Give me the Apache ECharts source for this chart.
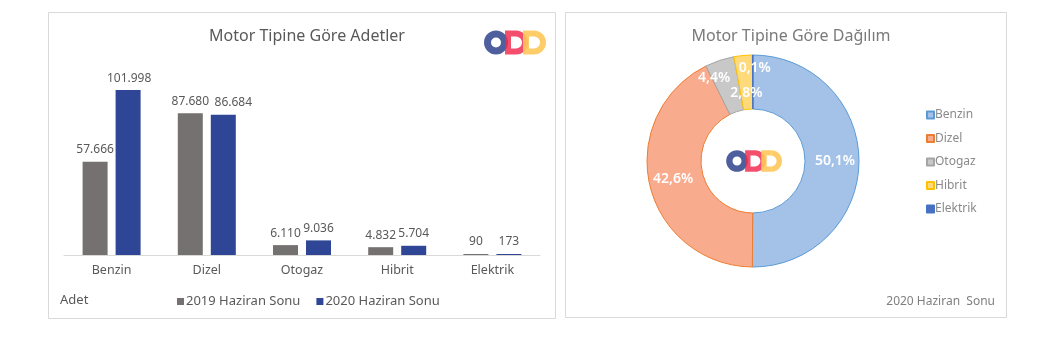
<!DOCTYPE html>
<html>
<head>
<meta charset="utf-8">
<script src="https://cdn.jsdelivr.net/npm/echarts@6/dist/echarts.min.js"></script>
<style>
  html, body { margin: 0; padding: 0; background: #fff; }
  #chart { width: 1042px; height: 349px; }
</style>
</head>
<body>
<div id="chart"></div>
<script>
// Motor types and registered vehicle counts
const categories = ['Benzin', 'Dizel', 'Otogaz', 'Hibrit', 'Elektrik'];
const seriesNames = ['2019 Haziran Sonu', '2020 Haziran Sonu'];
const values2019 = [57666, 87680, 6110, 4832, 90];
const values2020 = [101998, 86684, 9036, 5704, 173];

const FONT = 'Noto Sans';
const TEXT = '#595959';

// Turkish number format: dot as thousands separator
function fmtTr(v) {
  return String(v).replace(/\B(?=(\d{3})+(?!\d))/g, '.');
}

const total2020 = values2020.reduce((a, b) => a + b, 0);
function pctTr(v) {
  return (v / total2020 * 100).toFixed(1).replace('.', ',') + '%';
}

// Donut slice styling (fill, edge) and label nudges
const sliceFill = ['#A4C2E8', '#F9AB8E', '#C8C8C8', '#FFDA7A', '#4A6FC0'];
const sliceEdge = ['#5B9BD5', '#ED7D31', '#A5A5A5', '#FFC000', '#4472C4'];
const labelNudge = [[0, 0], [0, 0], [-13, -5], [1, 14], [2, -11]];

// Bar value labels: shift the 2020 Dizel label so it clears its neighbour
const barLabelShift2020 = [[1, 0], [10, 0], [0, 0], [0, 0], [0, 0]];

// ODD logo: blue ring, red and yellow "D" outlines
function logo(cx, cy, s) {
  const els = [{
    type: 'circle', z: 10,
    shape: { cx: cx, cy: cy, r: 8.5 * s },
    style: { fill: 'none', stroke: '#4F5F9E', lineWidth: 7 * s }
  }];
  function dShape(x0, color, opacity, z) {
    const t = cy - 9 * s, b = cy + 9 * s, ac = x0 + 8 * s, r = 9 * s;
    return [
      {
        type: 'polyline', z: z,
        shape: { points: [[ac, t], [x0, t], [x0, b], [ac, b]] },
        style: { fill: 'none', stroke: color, lineWidth: 6 * s, opacity: opacity, lineJoin: 'miter' }
      },
      {
        type: 'arc', z: z,
        shape: { cx: ac, cy: cy, r: r, startAngle: -Math.PI / 2, endAngle: Math.PI / 2, clockwise: true },
        style: { fill: 'none', stroke: color, lineWidth: 6 * s, opacity: opacity }
      }
    ];
  }
  return els.concat(
    dShape(cx + 12 * s, '#F0284C', 0.82, 11),
    dShape(cx + 30 * s, '#FFC75A', 0.9, 12)
  );
}

const chart = echarts.init(document.getElementById('chart'), null, { renderer: 'canvas' });

const pieData = categories.map((name, i) => ({
  name: name,
  value: values2020[i],
  itemStyle: { color: sliceFill[i], borderColor: sliceEdge[i], borderWidth: 1 },
  label: { offset: labelNudge[i] }
}));

const bars2020 = values2020.map((v, i) => ({
  value: v,
  label: { offset: barLabelShift2020[i] }
}));

const option = {
  animation: false,
  textStyle: { fontFamily: FONT },
  title: [
    {
      text: 'Motor Tipine Göre Adetler', left: 302, top: 23, textAlign: 'center',
      textStyle: { fontFamily: FONT, fontSize: 16, fontWeight: 'normal', color: TEXT }
    },
    {
      text: 'Motor Tipine Göre Dağılım', left: 786, top: 23, textAlign: 'center',
      textStyle: { fontFamily: FONT, fontSize: 16, fontWeight: 'normal', color: '#7A7A7A' }
    }
  ],
  legend: [
    {
      data: seriesNames,
      left: 172, top: 290,
      icon: 'rect', itemWidth: 7, itemHeight: 7, itemGap: 16,
      textStyle: { fontFamily: FONT, fontSize: 13, color: TEXT, padding: [0, 0, 0, -3] }
    },
    {
      data: categories,
      orient: 'vertical',
      left: 921, top: 103,
      icon: 'rect', itemWidth: 7, itemHeight: 7, itemGap: 9.5,
      textStyle: { fontFamily: FONT, fontSize: 12, color: '#8A8A8A', lineHeight: 14, padding: [0, 0, 0, -4] }
    }
  ],
  grid: { left: 64, right: 502, top: 61, bottom: 94 },
  xAxis: {
    type: 'category',
    data: categories,
    axisLine: { lineStyle: { color: '#D9D9D9' } },
    axisTick: { show: false },
    axisLabel: { color: TEXT, fontFamily: FONT, fontSize: 12.5, margin: 9 }
  },
  yAxis: {
    type: 'value', min: 0, max: 120000, show: false,
    splitLine: { show: false }
  },
  series: [
    {
      name: seriesNames[0], type: 'bar', data: values2019,
      barWidth: 25, barGap: '32%', barMinHeight: 1,
      itemStyle: { color: '#767171' },
      label: {
        show: true, position: 'top', distance: 6, color: TEXT, fontFamily: FONT, fontSize: 12,
        formatter: p => fmtTr(p.value)
      }
    },
    {
      name: seriesNames[1], type: 'bar', data: bars2020,
      barWidth: 25, barMinHeight: 1,
      itemStyle: { color: '#2F4595' },
      label: {
        show: true, position: 'top', distance: 6, color: TEXT, fontFamily: FONT, fontSize: 12,
        formatter: p => fmtTr(p.value)
      }
    },
    {
      name: 'Dağılım', type: 'pie',
      center: [753, 161], radius: [52, 106],
      startAngle: 90, clockwise: true,
      data: pieData,
      label: {
        show: true, position: 'inside', color: '#fff', fontFamily: FONT,
        fontSize: 14, fontWeight: 600,
        formatter: p => pctTr(p.value)
      },
      labelLine: { show: false },
      emphasis: { disabled: true }
    }
  ],
  graphic: [
    {
      type: 'rect', z: -1,
      shape: { x: 48.5, y: 12.5, width: 507, height: 306 },
      style: { fill: '#fff', stroke: '#D9D9D9', lineWidth: 1 }
    },
    {
      type: 'rect', z: -1,
      shape: { x: 565.5, y: 12.5, width: 441, height: 305 },
      style: { fill: '#fff', stroke: '#D9D9D9', lineWidth: 1 }
    },
    {
      type: 'text', left: 60, top: 294,
      style: { text: 'Adet', fill: TEXT, font: '13px "' + FONT + '"' }
    },
    {
      type: 'text', right: 1042 - 995, top: 296,
      style: { text: '2020 Haziran  Sonu', fill: '#7F7F7F', font: '12px "' + FONT + '"' }
    }
  ].concat(logo(496, 42.5, 1), logo(737, 161, 0.9))
};

chart.setOption(option);
</script>
</body>
</html>
